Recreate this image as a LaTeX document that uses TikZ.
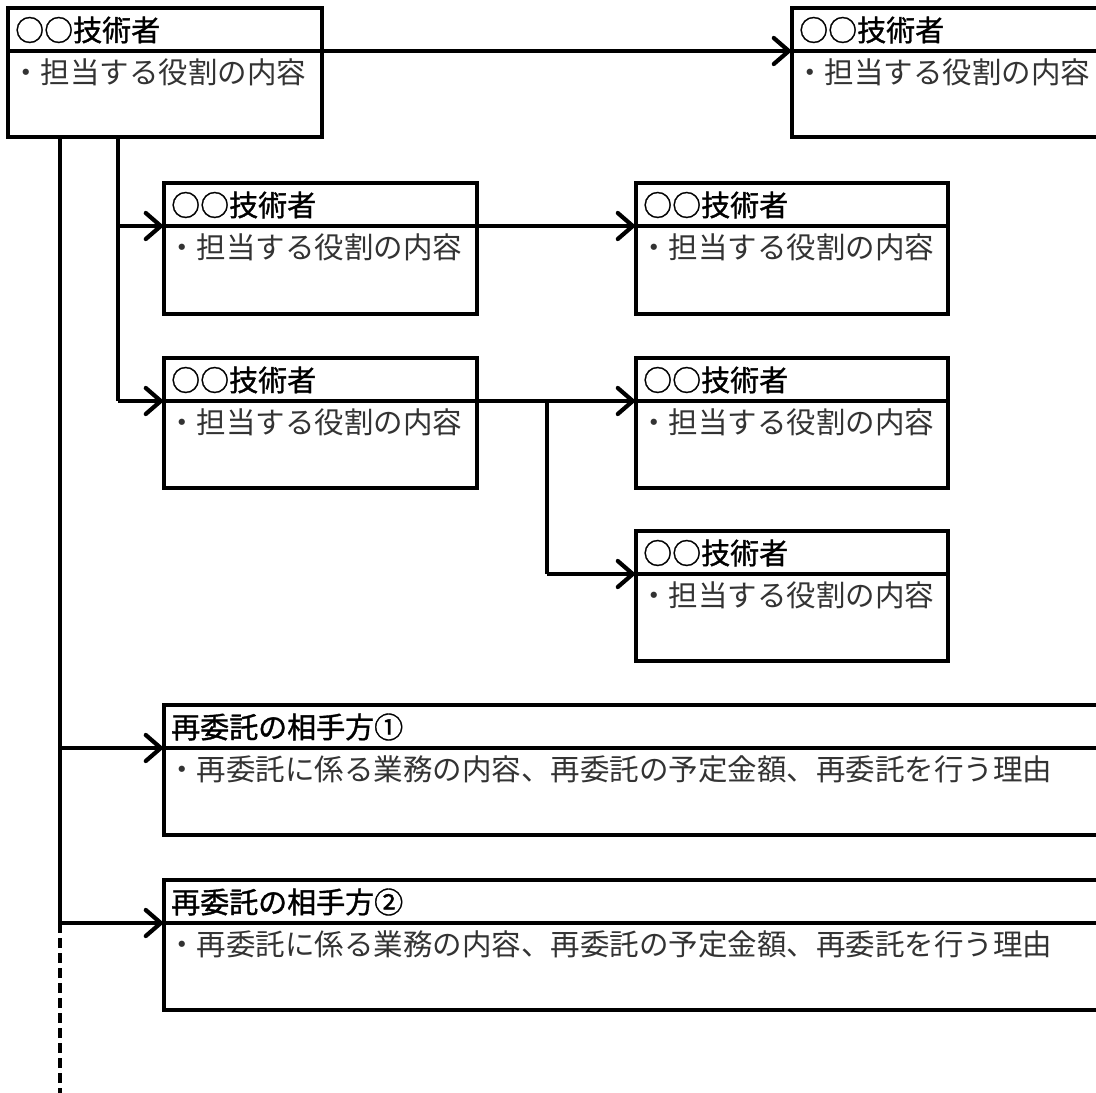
\documentclass[tikz,border=0pt]{standalone}
\usepackage{fontspec}
\newfontfamily\jp{Noto Sans CJK JP}
\newfontfamily\jpb{Noto Sans CJK JP}[FakeBold=1.2]
\usetikzlibrary{arrows.meta,calc}
\tikzset{
 frame/.style={draw, line width=3.6pt, inner sep=0pt, outer sep=0pt, anchor=north west},
 ln/.style={line width=3.6pt},
 arr/.style={ln, -{Straight Barb[length=15pt,width=26pt,line width=4.2pt,line cap=round]}},
 head/.style={font=\jpb\fontsize{29pt}{34pt}\selectfont, inner sep=0pt, anchor=west},
 bodytxt/.style={font=\jp\fontsize{29.5pt}{34pt}\selectfont, text=black!80, inner sep=0pt, anchor=west},
}
\newcommand\mkbox[7]{%
 \node[frame, minimum width=#4pt, minimum height=#5pt] (#1) at (#2,#3) {};
 \coordinate (#1d) at ($(#1.north west)+(0,-43pt)$);
 \draw[ln] (#1d) -- (#1d -| #1.east);
 \node[head] (#1h) at ($(#1.north west)+(7pt,-22pt)$) {#6};
 \node[bodytxt] (#1b) at ($(#1d)+(3pt,-21pt)$) {#7};
}
\begin{document}
\begin{tikzpicture}[x=1pt,y=-1pt]
\useasboundingbox (0,0) rectangle (1096,1093);
\mkbox{A}{8}{8}{314}{129}{○○技術者}{・担当する役割の内容}
\mkbox{B}{792}{8}{330}{129}{○○技術者}{・担当する役割の内容}
\mkbox{C}{164}{183}{313}{131}{○○技術者}{・担当する役割の内容}
\mkbox{D}{636}{183}{312}{131}{○○技術者}{・担当する役割の内容}
\mkbox{E}{164}{358}{313}{130}{○○技術者}{・担当する役割の内容}
\mkbox{F}{636}{358}{312}{130}{○○技術者}{・担当する役割の内容}
\mkbox{G}{636}{531}{312}{130}{○○技術者}{・担当する役割の内容}
\mkbox{H}{164}{705}{960}{130}{再委託の相手方①}{・再委託に係る業務の内容、再委託の予定金額、再委託を行う理由}
\mkbox{I}{164}{880}{960}{130}{再委託の相手方②}{・再委託に係る業務の内容、再委託の予定金額、再委託を行う理由}
% junction coordinates
\coordinate (tH) at (60,0);
\coordinate (tC) at (118,0);
\coordinate (jFG) at (547,0);
\coordinate (tEnd) at (60,1093);
% arrows
\draw[arr] (Ad -| A.east) -- (Bd);
\draw[arr] (Cd -| C.east) -- (Dd);
\draw[arr] (Ed -| E.east) -- (Fd);
% branch to G
\draw[ln] (Ed -| jFG) -- (Gd -| jFG);
\draw[arr] (Gd -| jFG) -- (Gd);
% second trunk
\draw[ln] (A.south -| tC) -- (Ed -| tC);
\draw[arr] (Cd -| tC) -- (Cd);
\draw[arr] (Ed -| tC) -- (Ed);
% main trunk
\draw[ln] (A.south -| tH) -- (Id -| tH);
\draw[arr] (Hd -| tH) -- (Hd);
\draw[arr] (Id -| tH) -- (Id);
\draw[ln, dash pattern=on 10pt off 5pt] (Id -| tH) -- (tEnd);
\end{tikzpicture}
\end{document}
